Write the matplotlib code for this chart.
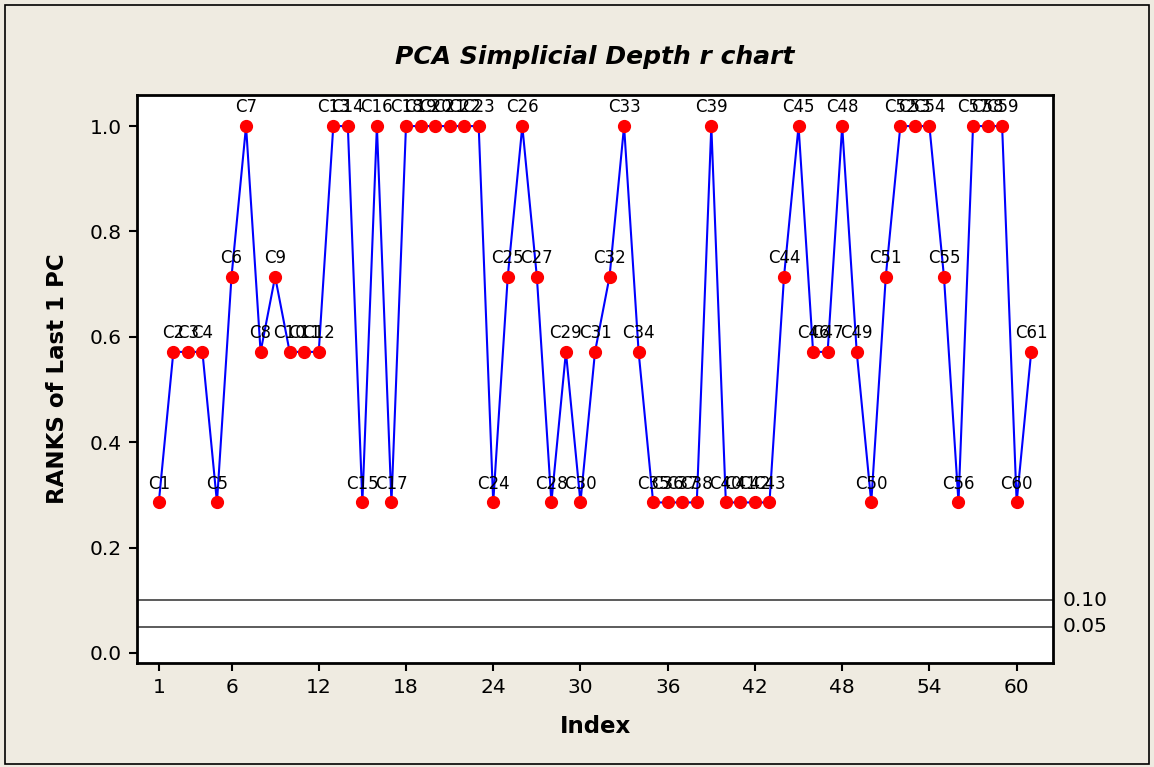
import numpy as np
import matplotlib
matplotlib.use("Agg")
from matplotlib import pyplot as plt
from matplotlib.patches import Rectangle

# rank levels seen on the chart
LO = 2 / 7
MID = 4 / 7
HI = 5 / 7

index = list(range(1, 62))
ranks = [LO, MID, MID, MID, LO, HI, 1.0, MID, HI, MID,
         MID, MID, 1.0, 1.0, LO, 1.0, LO, 1.0, 1.0, 1.0,
         1.0, 1.0, 1.0, LO, HI, 1.0, HI, LO, MID, LO,
         MID, HI, 1.0, MID, LO, LO, LO, LO, 1.0, LO,
         LO, LO, LO, HI, 1.0, MID, MID, 1.0, MID, LO,
         HI, 1.0, 1.0, 1.0, HI, LO, 1.0, 1.0, 1.0, LO,
         MID]
point_labels = [f"C{i}" for i in index]
x_ticks = [1, 6, 12, 18, 24, 30, 36, 42, 48, 54, 60]
y_ticks = [0.0, 0.2, 0.4, 0.6, 0.8, 1.0]
limits = [0.10, 0.05]
limit_labels = ["0.10", "0.05"]

BG = "#efebe1"
W, H = 1154, 767

fig = plt.figure(figsize=(W / 100, H / 100), dpi=100, facecolor=BG)
ax = fig.add_axes([137 / W, 1 - 663 / H, (1053 - 137) / W, (663 - 95) / H])
ax.set_facecolor("white")

# outer frame
fig.patches.append(Rectangle((5 / W, 3 / H), (W - 10) / W, (H - 8) / H,
                             transform=fig.transFigure, fill=False,
                             edgecolor="black", linewidth=1.2))

for val, lab in zip(limits, limit_labels):
    ax.axhline(val, color="#404040", linewidth=1.2, zorder=1)
    ax.annotate(lab, xy=(1, val), xycoords=("axes fraction", "data"),
                xytext=(7, 0), textcoords="offset points",
                ha="left", va="center", fontsize=14.5)

ax.plot(index, ranks, color="#0000ff", linewidth=1.5, zorder=2)
ax.plot(index, ranks, "o", color="#ff0000", markersize=8.5, zorder=3)

for xi, yi, lab in zip(index, ranks, point_labels):
    ax.annotate(lab, xy=(xi, yi), xytext=(0, 7), textcoords="offset points",
                ha="center", va="bottom", fontsize=12)

ax.set_xlim(-0.5, 62.5)
ax.set_ylim(-0.019, 1.059)
ax.set_xticks(x_ticks)
ax.set_yticks(y_ticks)
ax.set_yticklabels([f"{v:.1f}" for v in y_ticks])
ax.tick_params(direction="out", length=6, width=1.5, labelsize=14.5, pad=5)
for s in ax.spines.values():
    s.set_linewidth(2)

ax.set_xlabel("Index", fontsize=16.5, fontweight="bold", labelpad=13)
ax.set_ylabel("RANKS of Last 1 PC", fontsize=16.5, fontweight="bold", labelpad=15)
ax.set_title("PCA Simplicial Depth r chart", fontsize=18, fontweight="bold",
             fontstyle="italic", pad=22)

fig.savefig("out.png", dpi=100, facecolor=BG)
